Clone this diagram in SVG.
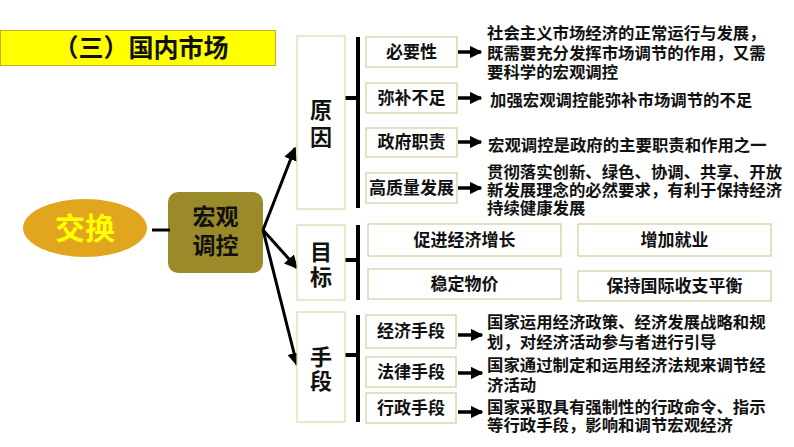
<svg xmlns="http://www.w3.org/2000/svg" width="794" height="447" viewBox="0 0 794 447">
<style>
text{font-family:"Liberation Sans","Noto Sans CJK SC",sans-serif;font-weight:bold;fill:#111;dominant-baseline:central}
.big{fill:#fff;stroke:#DDD8A8;stroke-width:1.2}
.sm{fill:#fff;stroke:#D4CC98;stroke-width:1.2}
.lbl{font-size:17px;text-anchor:middle}
.hd{font-size:22px;text-anchor:middle}
.ds{font-size:16.4px}
.br{stroke:#000;stroke-width:4;fill:none}
.ar{stroke:#000;stroke-width:3.5;fill:none}
.con{stroke:#000;stroke-width:3;fill:none}
</style>
<defs>
<marker id="ah" viewBox="0 0 10 10" refX="9" refY="5" markerWidth="4.5" markerHeight="4.5" orient="auto" markerUnits="strokeWidth">
<path d="M0,0 L10,5 L0,10 Z" fill="#000"/>
</marker>
<marker id="sa" viewBox="0 0 10 10" refX="9" refY="5" markerWidth="3.6" markerHeight="3.6" orient="auto" markerUnits="strokeWidth">
<path d="M0,0 L10,5 L0,10 Z" fill="#000"/>
</marker>
</defs>
<rect width="794" height="447" fill="#fff"/>

<g id="title">
<rect x="0.5" y="30.5" width="275" height="35" fill="#FFFF00" stroke="#C9B020" stroke-width="1"/>
<text x="141" y="48" font-size="25" text-anchor="middle">（三）国内市场</text>
</g>

<g id="jiaohuan">
<ellipse cx="85" cy="228" rx="62" ry="29" fill="#E2A51E"/>
<text x="85" y="228" font-size="30" text-anchor="middle" style="fill:#FFFF00">交换</text>
</g>

<g id="hongguan">
<rect x="168" y="192" width="95" height="81" rx="10" fill="#9A8A2A"/>
<text x="215.5" y="217" font-size="23" text-anchor="middle">宏观</text>
<text x="215.5" y="246" font-size="23" text-anchor="middle">调控</text>
</g>

<g id="connectors">
<line x1="152" y1="230" x2="170" y2="230" class="con"/>
<line x1="263" y1="230" x2="295" y2="148" class="con" marker-end="url(#ah)"/>
<line x1="263" y1="230" x2="297" y2="268" class="con" marker-end="url(#ah)"/>
<line x1="263" y1="230" x2="297" y2="365" class="con" marker-end="url(#ah)"/>
<!-- brackets -->
<line x1="358" y1="37" x2="358" y2="208" class="br"/>
<line x1="345" y1="98" x2="358" y2="98" class="br"/>
<line x1="358" y1="225" x2="358" y2="300" class="br"/>
<line x1="345" y1="260" x2="358" y2="260" class="br"/>
<line x1="358" y1="315" x2="358" y2="422" class="br"/>
<line x1="345" y1="355" x2="358" y2="355" class="br"/>
<!-- small arrows -->
<line x1="458" y1="52" x2="481" y2="52" class="ar" marker-end="url(#sa)"/>
<line x1="458" y1="98" x2="481" y2="98" class="ar" marker-end="url(#sa)"/>
<line x1="458" y1="142" x2="481" y2="142" class="ar" marker-end="url(#sa)"/>
<line x1="458" y1="188" x2="481" y2="188" class="ar" marker-end="url(#sa)"/>
<line x1="458" y1="335" x2="482" y2="335" class="ar" marker-end="url(#sa)"/>
<line x1="458" y1="373" x2="482" y2="373" class="ar" marker-end="url(#sa)"/>
<line x1="458" y1="412" x2="482" y2="412" class="ar" marker-end="url(#sa)"/>
</g>

<g id="yuanyin">
<rect x="297" y="36" width="48" height="173" class="big"/>
<text x="321" y="110" class="hd">原</text>
<text x="321" y="137" class="hd">因</text>
</g>
<g id="biyaoxing">
<rect x="366" y="37" width="91" height="30" class="sm"/>
<text x="411.5" y="52" class="lbl">必要性</text>
</g>
<g id="mibubuzu">
<rect x="366" y="83" width="91" height="30" class="sm"/>
<text x="411.5" y="98" class="lbl">弥补不足</text>
</g>
<g id="zhengfuzhize">
<rect x="366" y="128" width="91" height="29" class="sm"/>
<text x="411.5" y="142.5" class="lbl">政府职责</text>
</g>
<g id="gaozhiliang">
<rect x="366" y="173" width="91" height="30" class="sm"/>
<text x="411.5" y="188" class="lbl">高质量发展</text>
</g>
<g id="desc-yuanyin">
<text x="487" y="33" class="ds">社会主义市场经济的正常运行与发展，</text>
<text x="487" y="53" class="ds">既需要充分发挥市场调节的作用，又需</text>
<text x="487" y="72" class="ds">要科学的宏观调控</text>
<text x="490" y="100" class="ds">加强宏观调控能弥补市场调节的不足</text>
<text x="488" y="145" class="ds">宏观调控是政府的主要职责和作用之一</text>
<text x="487" y="172" class="ds">贯彻落实创新、绿色、协调、共享、开放</text>
<text x="487" y="190" class="ds">新发展理念的必然要求，有利于保持经济</text>
<text x="487" y="208" class="ds">持续健康发展</text>
</g>

<g id="mubiao">
<rect x="297" y="225" width="48" height="75" class="big"/>
<text x="321" y="252" class="hd">目</text>
<text x="321" y="277" class="hd">标</text>
</g>
<g id="cujin">
<rect x="368" y="224" width="193" height="32" class="sm"/>
<text x="464.5" y="240" class="lbl">促进经济增长</text>
</g>
<g id="zengjia">
<rect x="578" y="224" width="193" height="32" class="sm"/>
<text x="674.5" y="240" class="lbl">增加就业</text>
</g>
<g id="wending">
<rect x="368" y="269" width="193" height="30" class="sm"/>
<text x="464.5" y="284" class="lbl">稳定物价</text>
</g>
<g id="baochi">
<rect x="578" y="271" width="193" height="30" class="sm"/>
<text x="674.5" y="286" class="lbl">保持国际收支平衡</text>
</g>

<g id="shouduan">
<rect x="297" y="312" width="48" height="110" class="big"/>
<text x="321" y="357" class="hd">手</text>
<text x="321" y="381" class="hd">段</text>
</g>
<g id="jingji">
<rect x="366" y="315" width="90" height="33" class="sm"/>
<text x="411" y="331.5" class="lbl">经济手段</text>
</g>
<g id="falv">
<rect x="366" y="357" width="90" height="30" class="sm"/>
<text x="411" y="372" class="lbl">法律手段</text>
</g>
<g id="xingzheng">
<rect x="366" y="393" width="90" height="30" class="sm"/>
<text x="411" y="408" class="lbl">行政手段</text>
</g>
<g id="desc-shouduan">
<text x="487" y="322" class="ds">国家运用经济政策、经济发展战略和规</text>
<text x="487" y="342" class="ds">划，对经济活动参与者进行引导</text>
<text x="487" y="365" class="ds">国家通过制定和运用经济法规来调节经</text>
<text x="487" y="385" class="ds">济活动</text>
<text x="487" y="407" class="ds">国家采取具有强制性的行政命令、指示</text>
<text x="487" y="425" class="ds">等行政手段，影响和调节宏观经济</text>
</g>
</svg>
